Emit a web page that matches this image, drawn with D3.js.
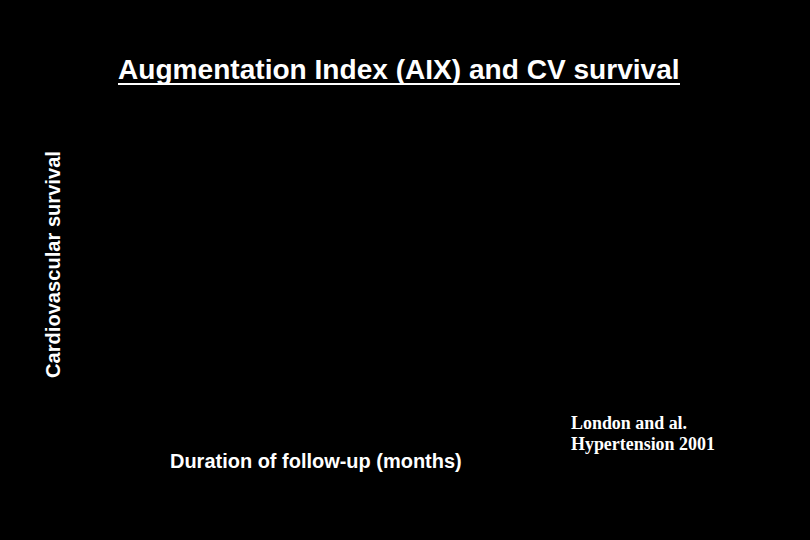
<!DOCTYPE html>
<html>
<head>
<meta charset="utf-8">
<script src="https://cdn.jsdelivr.net/npm/d3@7"></script>
<style>
  html, body { margin: 0; padding: 0; background: #000; }
</style>
</head>
<body>
<div id="chart"></div>
<script>
// Texts of the slide (the plot area itself is empty)
const titleText = "Augmentation Index (AIX) and CV survival";
const yLabel = "Cardiovascular survival";
const xLabel = "Duration of follow-up (months)";
const sourceLines = ["London and al.", "Hypertension 2001"];

const width = 810;
const height = 540;

const svg = d3.select("#chart")
    .append("svg")
    .attr("width", width)
    .attr("height", height)
    .style("background", "#000");

// fit a text to a target width by adjusting its font size
function fit(sel, target) {
    const w = sel.node().getComputedTextLength();
    const fs = parseFloat(sel.attr("font-size"));
    sel.attr("font-size", fs * target / w);
    return fs * target / w;
}

// Title with underline
const title = svg.append("text")
    .attr("x", 118)
    .attr("y", 79)
    .attr("fill", "#fff")
    .attr("font-family", "Liberation Sans, Arial, sans-serif")
    .attr("font-weight", "bold")
    .attr("font-size", 24)
    .text(titleText);
fit(title, 562);

svg.append("line")
    .attr("x1", 118)
    .attr("x2", 680)
    .attr("y1", 84)
    .attr("y2", 84)
    .attr("stroke", "#fff")
    .attr("stroke-width", 2);

// Y axis label
const yl = svg.append("text")
    .attr("transform", "translate(59.5, 378) rotate(-90)")
    .attr("fill", "#fff")
    .attr("font-family", "Liberation Sans, Arial, sans-serif")
    .attr("font-weight", "bold")
    .attr("font-size", 18)
    .text(yLabel);
fit(yl, 227);

// X axis label
const xl = svg.append("text")
    .attr("x", 170)
    .attr("y", 468)
    .attr("fill", "#fff")
    .attr("font-family", "Liberation Sans, Arial, sans-serif")
    .attr("font-weight", "bold")
    .attr("font-size", 18)
    .text(xLabel);
fit(xl, 292);

// Source
const src = svg.selectAll(".source")
    .data(sourceLines)
    .enter()
    .append("text")
    .attr("class", "source")
    .attr("x", 571)
    .attr("y", (d, i) => 429 + i * 21)
    .attr("fill", "#fff")
    .attr("font-family", "Liberation Serif, Times New Roman, serif")
    .attr("font-weight", "bold")
    .attr("font-size", 16)
    .text(d => d);
const srcSize = fit(src.filter((d, i) => i === 1), 144);
src.attr("font-size", srcSize);
</script>
</body>
</html>
